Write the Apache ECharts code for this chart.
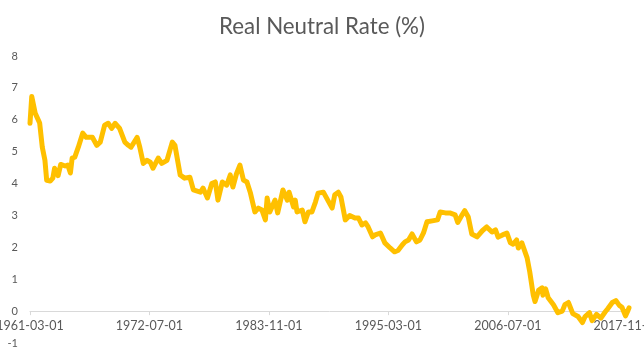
<!DOCTYPE html>
<html>
<head>
<meta charset="utf-8">
<script src="https://cdn.jsdelivr.net/npm/echarts@6/dist/echarts.min.js"></script>
<style>
html,body{margin:0;padding:0;background:#fff;}
#chart{width:644px;height:358px;}
</style>
</head>
<body>
<div id="chart"></div>
<script>
// Observation dates (YYYY-MM) and real neutral rate values (%)
var dates = [
"1961-03","1961-05","1961-09","1961-11","1962-02","1962-05","1962-08","1962-10","1963-02","1963-05",
"1963-07","1963-11","1964-02","1964-07","1964-10","1965-01","1965-03","1965-06","1965-10","1966-03",
"1966-07","1967-02","1967-07","1967-11","1968-04","1968-08","1968-12","1969-04","1969-09","1970-03",
"1970-07","1970-10","1970-12","1971-05","1971-08","1971-12","1972-04","1972-08","1972-11","1973-05",
"1973-09","1974-03","1974-09","1974-12","1975-06","1975-11","1976-05","1976-09","1977-05","1977-08",
"1978-01","1978-06","1978-10","1979-01","1979-06","1979-11","1980-03","1980-06","1980-10","1981-02",
"1981-06","1981-10","1982-02","1982-07","1982-11","1983-03","1983-07","1983-09","1983-12","1984-06",
"1984-09","1985-03","1985-08","1985-10","1986-03","1986-05","1986-07","1987-01","1987-04","1987-08",
"1987-12","1988-04","1988-07","1989-01","1989-06","1989-11","1990-02","1990-06","1990-09","1991-02",
"1991-07","1992-01","1992-05","1992-09","1993-01","1993-04","1993-09","1993-12","1994-06","1994-11",
"1995-05","1995-10","1996-02","1996-07","1996-10","1997-02","1997-06","1997-11","1998-03","1998-07",
"1998-11","1999-05","1999-11","2000-02","2000-08","2001-01","2001-07","2001-10","2002-03","2002-06",
"2002-10","2003-02","2003-08","2004-02","2004-07","2005-01","2005-05","2005-08","2006-01","2006-06",
"2006-10","2007-01","2007-05","2007-07","2007-11","2008-05","2008-08","2008-12","2009-02","2009-06",
"2009-10","2009-11","2010-02","2010-05","2010-11","2011-04","2011-09","2011-12","2012-04","2012-09",
"2013-03","2013-08","2013-11","2014-04","2014-07","2014-12","2015-05","2015-10","2016-01","2016-06",
"2016-10","2017-02","2017-05","2017-09","2017-12","2018-01"
];
var rates = [
5.89,6.73,6.2,6.14,5.9,5.14,4.73,4.1,4.08,4.17,
4.48,4.25,4.6,4.55,4.58,4.33,4.8,4.83,5.14,5.58,
5.45,5.45,5.2,5.3,5.83,5.89,5.73,5.89,5.73,5.3,
5.2,5.14,5.1,5.45,5.14,4.63,4.73,4.67,4.48,4.8,
4.63,4.73,5.3,5.2,4.27,4.17,4.2,3.8,3.73,3.86,
3.55,4.0,4.05,3.48,4.05,3.95,4.27,3.89,4.3,4.58,
4.11,4.05,3.7,3.11,3.23,3.17,2.86,3.55,3.11,3.48,
3.08,3.8,3.48,3.73,3.27,3.48,3.11,3.17,2.8,3.11,
3.11,3.42,3.7,3.73,3.48,3.23,3.65,3.73,3.58,2.86,
3.0,2.92,2.92,2.7,2.77,2.64,2.33,2.39,2.45,2.14,
1.98,1.86,1.9,2.08,2.17,2.23,2.42,2.17,2.23,2.45,
2.8,2.83,2.86,3.11,3.08,3.08,3.02,2.78,3.02,3.15,
2.95,2.42,2.33,2.52,2.64,2.48,2.55,2.32,2.39,2.45,
2.14,2.1,2.23,1.98,2.14,1.67,1.23,0.5,0.3,0.65,
0.73,0.5,0.7,0.42,0.2,-0.05,0.0,0.2,0.27,-0.08,
-0.17,-0.36,-0.17,-0.05,-0.3,-0.1,-0.22,-0.02,0.08,0.27,
0.33,0.18,0.12,-0.15,0.03,0.1
];
// X-axis tick labels
var xTickLabels = ["1961-03-01","1972-07-01","1983-11-01","1995-03-01","2006-07-01","2017-11-01"];
var yMin = -1, yMax = 8;

function monthIndex(s){
  var p = s.split("-");
  return (parseInt(p[0],10) - 1961) * 12 + (parseInt(p[1],10) - 3);
}
var seriesData = dates.map(function(d,i){ return [monthIndex(d), rates[i]]; });
var tickIdx = xTickLabels.map(monthIndex);
var labelMap = {};
tickIdx.forEach(function(v,i){ labelMap[v] = xTickLabels[i]; });

var H = 358, gridTop = 56, gridBottom = 15;
var unitPx = (H - gridTop - gridBottom) / (yMax - yMin);
var zeroOffset = -(0 - yMin) * unitPx; // lift x axis to the y=0 line

var chart = echarts.init(document.getElementById('chart'), null, {renderer:'canvas'});
chart.setOption({
  animation: false,
  backgroundColor: '#ffffff',
  title: {
    text: 'Real Neutral Rate (%)',
    left: 'center',
    top: 11,
    textStyle: { fontFamily: 'Lato', fontSize: 22.3, fontWeight: 'normal', color: '#595959' }
  },
  grid: { left: 30, right: 15, top: gridTop, bottom: gridBottom, containLabel: false, outerBoundsMode: 'none' },
  xAxis: {
    type: 'value',
    min: 0,
    max: monthIndex(dates[dates.length-1]),
    position: 'bottom',
    offset: zeroOffset,
    axisLine: { onZero: false, lineStyle: { color: '#d9d9d9', width: 1 } },
    axisTick: { show: true, length: 4, customValues: tickIdx, lineStyle: { color: '#d9d9d9' } },
    splitLine: { show: false },
    axisLabel: {
      customValues: tickIdx,
      margin: 8,
      color: '#595959',
      fontFamily: 'Lato',
      fontSize: 12.5,
      formatter: function(v){ return labelMap[v] || ''; }
    }
  },
  yAxis: {
    type: 'value',
    min: yMin,
    max: yMax,
    interval: 1,
    axisLine: { show: false },
    axisTick: { show: false },
    splitLine: { show: false },
    axisLabel: { color: '#595959', fontFamily: 'Lato', fontSize: 11, margin: 12 }
  },
  series: [{
    type: 'line',
    data: seriesData,
    showSymbol: false,
    symbol: 'none',
    smooth: false,
    lineStyle: { color: '#FFC000', width: 5, cap: 'round', join: 'round' },
    clip: false
  }]
});
</script>
</body>
</html>
